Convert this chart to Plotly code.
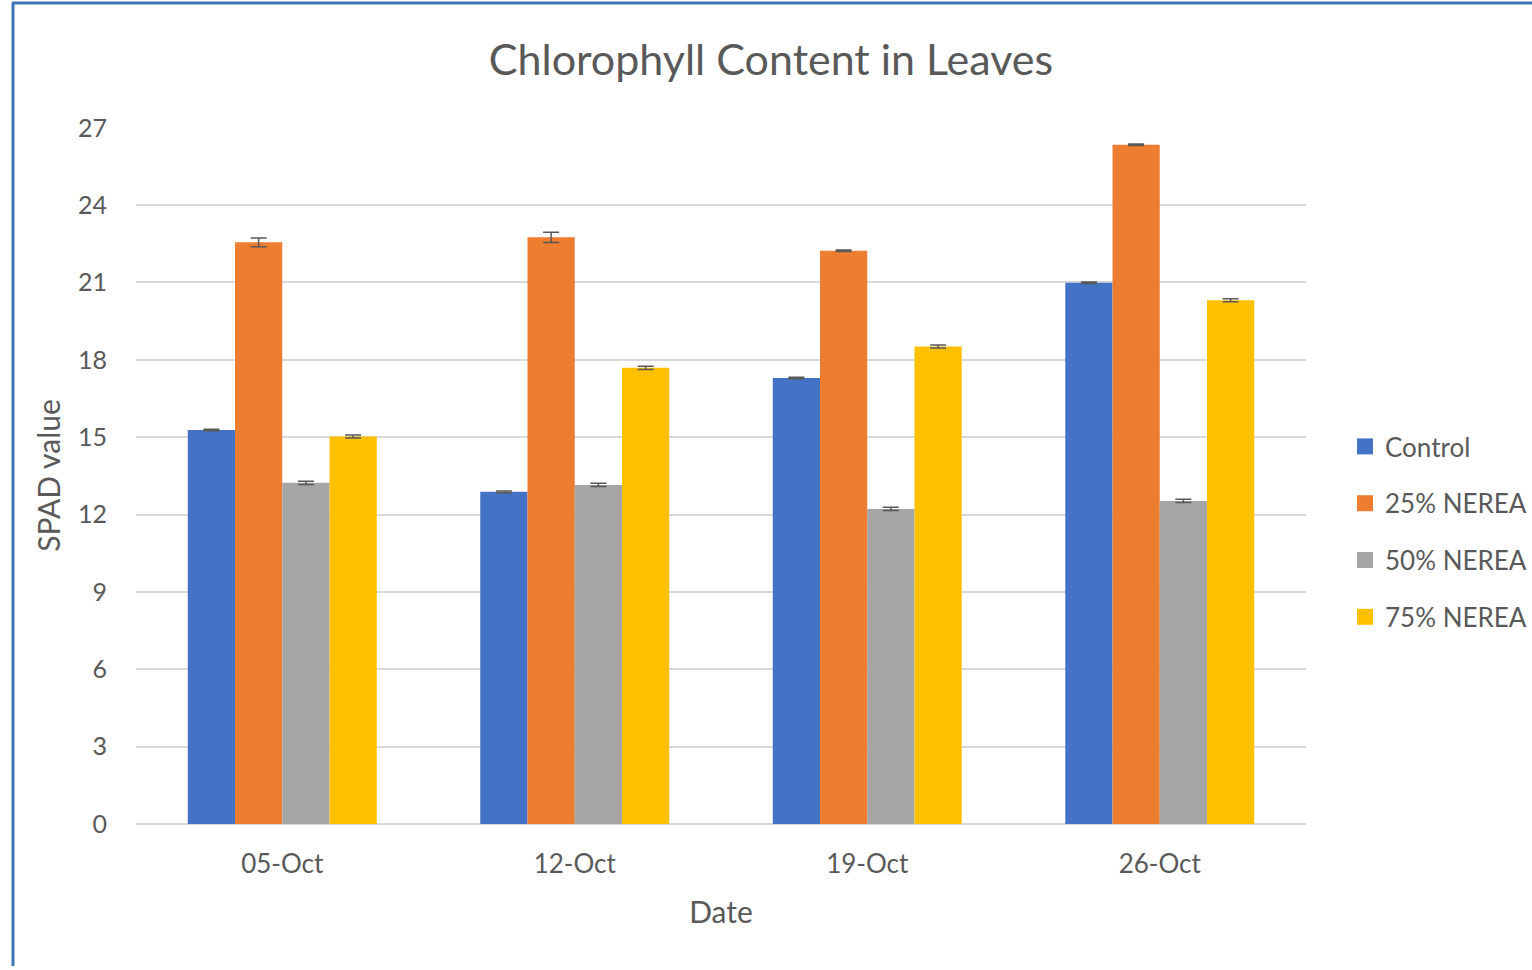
import plotly.graph_objects as go

dates = ["05-Oct", "12-Oct", "19-Oct", "26-Oct"]
series_names = ["Control", "25% NEREA", "50% NEREA", "75% NEREA"]
control = [15.28, 12.88, 17.30, 20.99]
nerea25 = [22.56, 22.75, 22.23, 26.34]
nerea50 = [13.23, 13.15, 12.22, 12.53]
nerea75 = [15.03, 17.69, 18.52, 20.31]
err_control = [0.03, 0.03, 0.03, 0.03]
err_25 = [0.17, 0.2, 0.03, 0.03]
err_50 = [0.06, 0.06, 0.06, 0.06]
err_75 = [0.06, 0.06, 0.06, 0.06]
colors = ["#4472C4", "#ED7D31", "#A5A5A5", "#FFC000"]
y_ticks = [0, 3, 6, 9, 12, 15, 18, 21, 24, 27]

values = [control, nerea25, nerea50, nerea75]
errors = [err_control, err_25, err_50, err_75]

# figure slightly wider than the viewport so the legend never pushes margins
W, H = 1580, 966
L, R, T, B = 136, 1306, 127, 824
YMAX = 27.03

fig = go.Figure()
for i, (name, vals, errs) in enumerate(zip(series_names, values, errors)):
    fig.add_trace(go.Bar(
        x=dates, y=vals, name=name,
        marker=dict(color=colors[i], line=dict(width=0)),
        error_y=dict(type="data", array=errs, visible=True,
                     color="#595959", thickness=1.5, width=8),
        legendgroup=name, showlegend=False,
    ))
# legend entries with larger square swatches
for i, name in enumerate(series_names):
    fig.add_trace(go.Scatter(
        x=[None], y=[None], mode="markers", name=name,
        marker=dict(symbol="square", size=16, color=colors[i]),
        legendgroup=name, showlegend=True,
    ))

def px_x(px):
    return (px - L) / (R - L)

def px_y(py):
    return (B - py) / (B - T)

fig.update_layout(
    width=W, height=H,
    margin=dict(l=L, r=W - R, t=T, b=H - B, pad=0),
    autosize=False,
    paper_bgcolor="white", plot_bgcolor="white",
    barmode="group", bargap=0.354, bargroupgap=0,
    font=dict(family="Lato, 'Open Sans', sans-serif", color="#595959"),
    title=dict(text="Chlorophyll Content in Leaves",
               x=px_x(771), xref="paper", xanchor="center",
               y=1 - 60 / H, yanchor="middle",
               font=dict(size=43, color="#595959")),
    xaxis=dict(
        title=dict(text="Date", font=dict(size=30, color="#595959"), standoff=23),
        tickfont=dict(size=26, color="#595959"),
        showgrid=False, showline=False, zeroline=False,
        ticks="", ticklabelstandoff=22,
    ),
    yaxis=dict(
        range=[0, YMAX], tickvals=y_ticks,
        title=dict(text="SPAD value", font=dict(size=30, color="#595959"), standoff=8),
        tickfont=dict(size=25, color="#595959"),
        showgrid=True, gridcolor="#D9D9D9", gridwidth=1.5,
        zeroline=True, zerolinecolor="#D9D9D9", zerolinewidth=1.5,
        showline=False, ticks="", ticklabelstandoff=28,
    ),
    legend=dict(
        x=px_x(1345), xanchor="left",
        y=px_y(423), yanchor="top",
        font=dict(size=26, color="#595959"),
        traceorder="grouped", tracegroupgap=20,
        itemwidth=30, bgcolor="rgba(0,0,0,0)",
    ),
    showlegend=True,
    shapes=[
        dict(type="line", xref="paper", yref="paper",
             x0=px_x(13), x1=px_x(13), y0=px_y(3), y1=px_y(990),
             line=dict(color="#3E75B5", width=3)),
        dict(type="line", xref="paper", yref="paper",
             x0=px_x(12), x1=px_x(1600), y0=px_y(3), y1=px_y(3),
             line=dict(color="#3E75B5", width=3)),
    ],
)

fig.write_html(
    "out.html",
    config={"displayModeBar": False},
    post_script=(
        "document.body.style.margin='0';"
        "document.body.style.overflow='hidden';"
        "document.documentElement.style.overflow='hidden';"
    ),
)
